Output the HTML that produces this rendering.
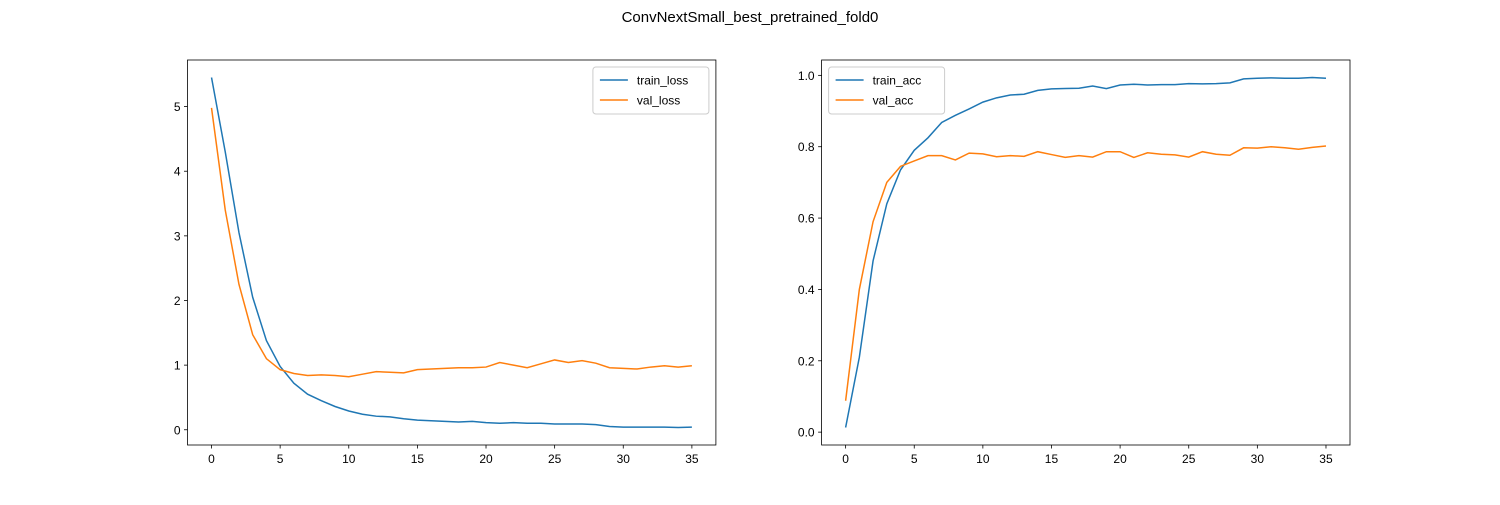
<!DOCTYPE html>
<html><head><meta charset="utf-8"><style>
body{margin:0;background:#fff;}
svg text{font-family:"Liberation Sans","DejaVu Sans",sans-serif;}
</style></head><body>
<svg id="fig" width="1500" height="500" viewBox="0 0 1500 500" xmlns="http://www.w3.org/2000/svg">
<rect width="1500" height="500" fill="#fff"/>
<text x="750" y="22" text-anchor="middle" font-size="15">ConvNextSmall_best_pretrained_fold0</text>
</svg>
<script>
const epochs = Array.from({length:36},(_,i)=>i);
const trainLoss=[5.45,4.3,3.05,2.05,1.38,0.98,0.72,0.55,0.45,0.36,0.29,0.24,0.21,0.2,0.17,0.15,0.14,0.13,0.12,0.13,0.11,0.1,0.11,0.1,0.1,0.09,0.09,0.09,0.08,0.05,0.04,0.04,0.04,0.04,0.035,0.04];
const valLoss=[4.98,3.4,2.25,1.47,1.1,0.93,0.87,0.84,0.85,0.84,0.82,0.86,0.9,0.89,0.88,0.93,0.94,0.95,0.96,0.96,0.97,1.04,1.0,0.96,1.02,1.08,1.04,1.07,1.03,0.96,0.95,0.94,0.97,0.99,0.97,0.99];
const trainAcc=[0.013,0.21,0.48,0.64,0.735,0.79,0.825,0.868,0.888,0.906,0.925,0.937,0.945,0.947,0.958,0.962,0.963,0.964,0.97,0.963,0.973,0.975,0.973,0.974,0.974,0.977,0.976,0.977,0.979,0.99,0.992,0.993,0.992,0.992,0.994,0.992];
const valAcc=[0.088,0.40,0.59,0.70,0.745,0.76,0.775,0.775,0.763,0.782,0.78,0.772,0.775,0.773,0.786,0.778,0.77,0.775,0.771,0.786,0.786,0.77,0.783,0.779,0.777,0.771,0.786,0.779,0.776,0.797,0.796,0.8,0.797,0.793,0.798,0.802];
const xTicks=[0,5,10,15,20,25,30,35];
const lossTicks=[0,1,2,3,4,5];
const accTicks=[0.0,0.2,0.4,0.6,0.8,1.0];
const NS='http://www.w3.org/2000/svg';
const svg=document.getElementById('fig');
function mk(tag,attrs,parent){const e=document.createElementNS(NS,tag);for(const k in attrs)e.setAttribute(k,attrs[k]);(parent||svg).appendChild(e);return e;}
function panel(name,left,series,yTicks,fmt,legendLeft){
  const top=60,bottom=445,w=528.4,right=left+w;
  const all=series.flatMap(s=>s.data);
  const mn=Math.min(...all),mx=Math.max(...all),r=mx-mn;
  const y0=mn-0.05*r,y1=mx+0.05*r;
  const x0=-1.75,x1=36.75;
  const sx=v=>left+(v-x0)/(x1-x0)*w;
  const sy=v=>bottom-(v-y0)/(y1-y0)*(bottom-top);
  const g=mk('g',{});
  
  
  series.forEach(s=>{
    const p=mk('polyline',{points:s.data.map((v,i)=>sx(epochs[i])+','+sy(v)).join(' '),fill:'none',stroke:s.color,'stroke-width':1.5},g);
    
    
  });
  const fr=mk('rect',{x:left,y:top,width:w,height:bottom-top,fill:'none',stroke:'#000','stroke-width':0.8},g);
  
  
  xTicks.forEach(t=>{
    mk('line',{x1:sx(t),x2:sx(t),y1:bottom,y2:bottom+3.5,stroke:'#000','stroke-width':0.8},g);
    const tx=mk('text',{x:sx(t),y:bottom+18,'text-anchor':'middle','font-size':12},g);
    tx.textContent=t;
    
    
  });
  yTicks.forEach(t=>{
    mk('line',{x1:left-3.5,x2:left,y1:sy(t),y2:sy(t),stroke:'#000','stroke-width':0.8},g);
    const tx=mk('text',{x:left-7,y:sy(t)+4.5,'text-anchor':'end','font-size':12},g);
    tx.textContent=fmt(t);
    
    
  });
  const lw=116,lh=47;
  const lx=legendLeft?left+7:right-7-lw, ly=top+7;
  const lg=mk('g',{},g);
  
  
  mk('rect',{x:lx,y:ly,width:lw,height:lh,rx:3,fill:'#fff','fill-opacity':0.8,stroke:'#ccc'},lg);
  series.forEach((s,i)=>{
    const yy=ly+13+i*20;
    mk('line',{x1:lx+7,x2:lx+35,y1:yy,y2:yy,stroke:s.color,'stroke-width':1.5},lg);
    const tx=mk('text',{x:lx+44,y:yy+4.5,'font-size':12},lg);
    tx.textContent=s.label;
    
    
  });
}
panel('loss-chart',187.5,[{label:'train_loss',data:trainLoss,color:'#1f77b4'},{label:'val_loss',data:valLoss,color:'#ff7f0e'}],lossTicks,t=>String(t),false);
panel('accuracy-chart',821.6,[{label:'train_acc',data:trainAcc,color:'#1f77b4'},{label:'val_acc',data:valAcc,color:'#ff7f0e'}],accTicks,t=>t.toFixed(1),true);
</script>
</body></html>
